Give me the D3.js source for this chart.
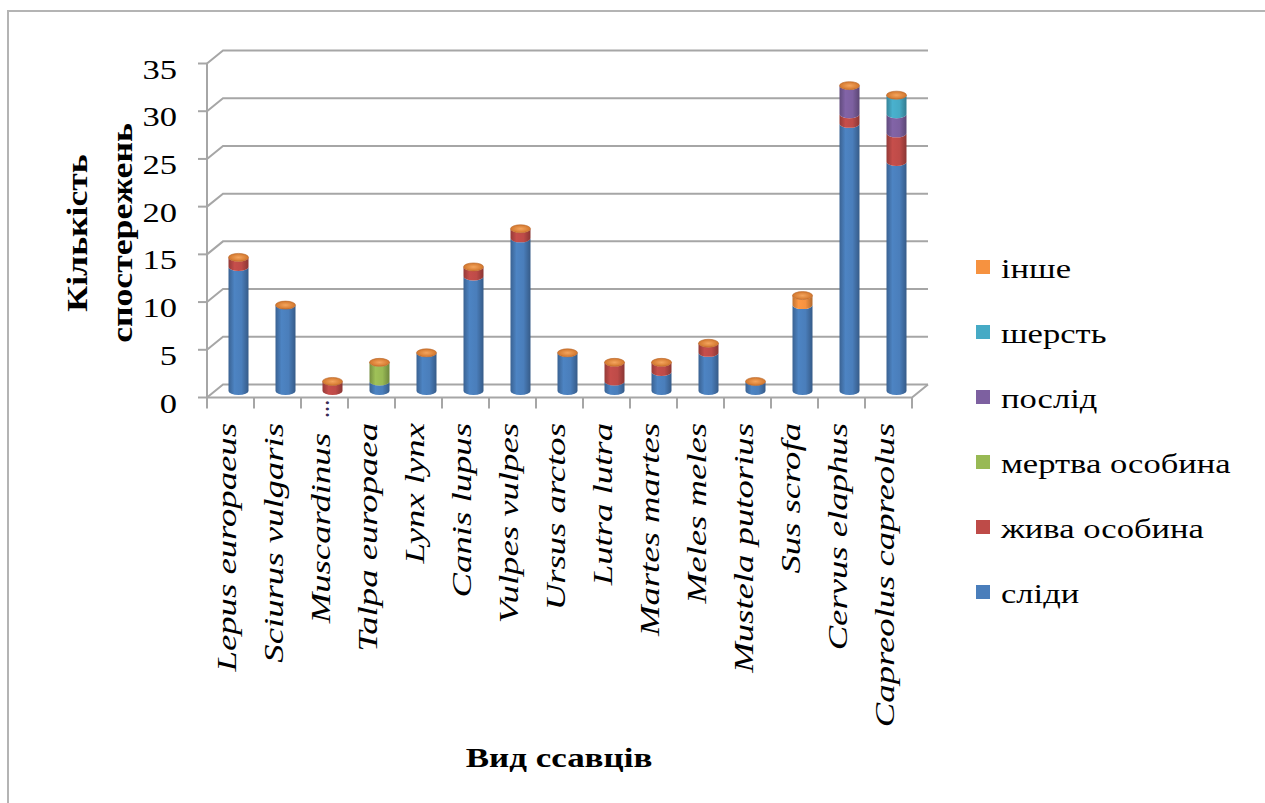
<!DOCTYPE html>
<html>
<head>
<meta charset="utf-8">
<script src="https://cdn.jsdelivr.net/npm/d3@7"></script>
<style>
  html, body { margin: 0; padding: 0; background: #fff; }
  svg { display: block; }
</style>
</head>
<body>
<svg id="chart" width="1265" height="803" font-family="'Liberation Serif', 'Times New Roman', 'DejaVu Serif', serif"></svg>
<script>
// Species observed and counts per observation type
const categories = [
  "Lepus europaeus", "Sciurus vulgaris", "Muscardinus ...", "Talpa europaea",
  "Lynx lynx", "Canis lupus", "Vulpes vulpes", "Ursus arctos", "Lutra lutra",
  "Martes martes", "Meles meles", "Mustela putorius", "Sus scrofa",
  "Cervus elaphus", "Capreolus capreolus"
];
const slidy  = [13, 9, 0, 1, 4, 12, 16, 4, 1, 2, 4, 1, 9, 28, 24];
const zhyva  = [ 1, 0, 1, 0, 0,  1,  1, 0, 2, 1, 1, 0, 0,  1,  3];
const mertva = [ 0, 0, 0, 2, 0,  0,  0, 0, 0, 0, 0, 0, 0,  0,  0];
const poslid = [ 0, 0, 0, 0, 0,  0,  0, 0, 0, 0, 0, 0, 0,  3,  2];
const sherst = [ 0, 0, 0, 0, 0,  0,  0, 0, 0, 0, 0, 0, 0,  0,  2];
const inshe  = [ 0, 0, 0, 0, 0,  0,  0, 0, 0, 0, 0, 0, 1,  0,  0];

const seriesNames = ["сліди", "жива особина", "мертва особина", "послід", "шерсть", "інше"];
const seriesValues = [slidy, zhyva, mertva, poslid, sherst, inshe];
const seriesColors = ["#4A7EBB", "#BE4B48", "#98B954", "#7D60A0", "#46AAC5", "#F69240"];
const yTicks = [0, 5, 10, 15, 20, 25, 30, 35];

const yTitleLines = ["Кількість", "спостережень"];
const xTitle = "Вид ссавців";

const svg = d3.select("#chart");
const defs = svg.append("defs");

// outer frame (only top and left edges are inside the page)
svg.append("path")
  .attr("d", "M8,803 L8,11 L1265,11")
  .attr("fill", "none").attr("stroke", "#b4b4b4").attr("stroke-width", 2);

// pseudo-3D geometry
const depthX = 16, depthY = -13;
const x = d3.scaleBand().domain(categories).range([207, 912]).paddingInner(0).paddingOuter(0);
const y = d3.scaleLinear().domain([0, 35]).range([397.5, 63.5]);

const grid = svg.append("g").attr("fill", "none").attr("stroke", "#a6a6a6").attr("stroke-width", 2);
const x0 = x.range()[0], x1 = x.range()[1];

// back wall and side wall gridlines
yTicks.forEach(t => {
  const yy = y(t);
  grid.append("path")
    .attr("d", `M${x0},${yy} L${x0 + depthX},${yy + depthY} L${x1 + depthX},${yy + depthY}`);
});
// floor front edge and right edge
grid.append("path").attr("d", `M${x0},${y(0)} L${x1},${y(0)} L${x1 + depthX},${y(0) + depthY}`);
// front vertical axis
grid.append("path").attr("d", `M${x0},${y(35)} L${x0},${y(0)}`);
// value ticks
yTicks.forEach(t => {
  grid.append("path").attr("d", `M${x0 - 9},${y(t)} L${x0},${y(t)}`);
});
// category ticks
d3.range(categories.length + 1).forEach(i => {
  const xx = x0 + i * x.bandwidth();
  grid.append("path").attr("d", `M${xx},${y(0)} L${xx},${y(0) + 11}`);
});

// value labels
const stretch = 1.28;
yTicks.forEach(t => {
  svg.append("text")
    .attr("transform", `translate(177,${y(t) + 6}) scale(${stretch},1)`)
    .attr("text-anchor", "end")
    .attr("dominant-baseline", "central")
    .attr("font-size", 27)
    .text(t);
});

// cylinder shading gradients
seriesColors.forEach((c, i) => {
  const base = d3.color(c);
  const g = defs.append("linearGradient").attr("id", "cyl" + i)
    .attr("x1", 0).attr("x2", 1).attr("y1", 0).attr("y2", 0);
  g.append("stop").attr("offset", 0).attr("stop-color", base.darker(0.7));
  g.append("stop").attr("offset", 0.3).attr("stop-color", base.brighter(0.12));
  g.append("stop").attr("offset", 0.65).attr("stop-color", base);
  g.append("stop").attr("offset", 1).attr("stop-color", base.darker(0.9));
});
const capGrad = defs.append("radialGradient").attr("id", "cap");
capGrad.append("stop").attr("offset", 0).attr("stop-color", "#F4A55E");
capGrad.append("stop").attr("offset", 1).attr("stop-color", "#D2762C");

const rx = 10, ry = 4;
const bars = svg.append("g");
categories.forEach((cat, ci) => {
  const cx = x(cat) + x.bandwidth() / 2 + depthX / 2;
  let acc = 0;
  seriesValues.forEach((vals, si) => {
    const v = vals[ci];
    if (!v) return;
    const yb = y(acc) + depthY / 2;
    const yt = y(acc + v) + depthY / 2;
    bars.append("path")
      .attr("d", `M${cx - rx},${yt} A${rx},${ry} 0 0 0 ${cx + rx},${yt} L${cx + rx},${yb} A${rx},${ry} 0 0 1 ${cx - rx},${yb} Z`)
      .attr("fill", `url(#cyl${si})`);
    acc += v;
  });
  bars.append("ellipse")
    .attr("cx", cx).attr("cy", y(acc) + depthY / 2)
    .attr("rx", rx).attr("ry", ry)
    .attr("fill", "url(#cap)").attr("stroke", "#B8672A").attr("stroke-width", 0.6);
});

// category labels, rotated; a truncated name keeps its ellipsis hanging toward the axis
const labelTop = 423, labelStretch = 1.36;
categories.forEach(cat => {
  const cx = x(cat) + x.bandwidth() / 2 - 4;
  const truncated = cat.endsWith("...");
  const main = truncated ? cat.slice(0, -3).trim() : cat;
  svg.append("text")
    .attr("transform", `translate(${cx},${truncated ? labelTop + 10 : labelTop}) rotate(-90) scale(${labelStretch},1)`)
    .attr("text-anchor", "end")
    .attr("dominant-baseline", "central")
    .attr("font-size", 27)
    .attr("font-style", "italic")
    .text(main);
  if (truncated) {
    svg.append("text")
      .attr("transform", `translate(${cx},${labelTop - 5}) rotate(-90) scale(0.9,1)`)
      .attr("text-anchor", "start")
      .attr("dominant-baseline", "central")
      .attr("font-size", 27)
      .attr("fill", "#3a2a55")
      .text("...");
  }
});

// axis titles
yTitleLines.forEach((line, i) => {
  svg.append("text")
    .attr("transform", `translate(${77 + i * 45},233) rotate(-90) scale(1.23,1)`)
    .attr("text-anchor", "middle")
    .attr("dominant-baseline", "central")
    .attr("font-size", 29)
    .attr("font-weight", "bold")
    .text(line);
});
svg.append("text")
  .attr("transform", `translate(559,767) scale(1.25,1)`)
  .attr("text-anchor", "middle")
  .attr("font-size", 28)
  .attr("font-weight", "bold")
  .text(xTitle);

// legend, last series on top
const legend = svg.append("g");
const legendOrder = d3.range(seriesNames.length).reverse();
legendOrder.forEach((si, k) => {
  const cy = 267 + k * 65;
  legend.append("rect")
    .attr("x", 976).attr("y", cy - 7).attr("width", 14).attr("height", 14)
    .attr("fill", seriesColors[si]);
  legend.append("text")
    .attr("transform", `translate(1001,${cy + 2}) scale(${stretch},1)`)
    .attr("dominant-baseline", "central")
    .attr("font-size", 27)
    .text(seriesNames[si]);
});
</script>
</body>
</html>
